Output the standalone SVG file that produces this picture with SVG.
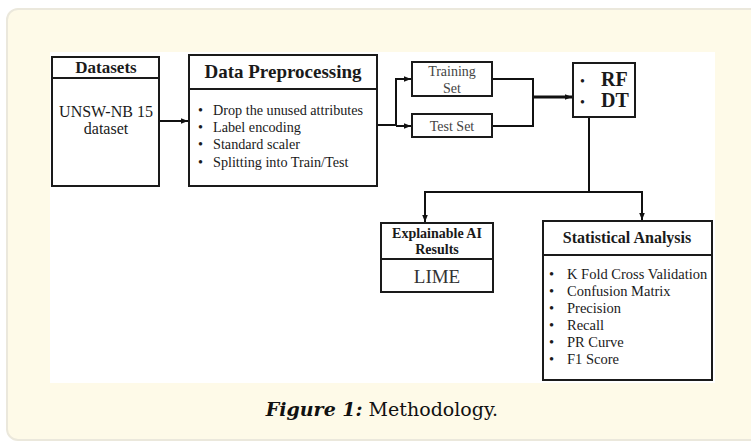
<svg xmlns="http://www.w3.org/2000/svg" width="751" height="442" viewBox="0 0 751 442">
<defs>
<marker id="ahs" viewBox="0 0 10 10" refX="10" refY="5" markerWidth="7" markerHeight="7" orient="auto" markerUnits="userSpaceOnUse">
<path d="M0,1 L10,5 L0,9 z" fill="#111"/>
</marker>
<style>
.box{fill:#fff;stroke:#1a1a1a;stroke-width:2}
.div{stroke:#1a1a1a;stroke-width:2}
.t{font-family:"Liberation Serif","Times New Roman",serif;fill:#1a1a1a}
.g{fill:#444}
.b{font-weight:bold}
.c{text-anchor:middle}
.ln{fill:none;stroke:#111;stroke-width:2}
</style>
</defs>
<rect x="7" y="9" width="760" height="431" rx="11" fill="#fefae8" stroke="#ebe8dc" stroke-width="2"/>
<rect x="50" y="52" width="665" height="331" fill="#ffffff"/>

<g id="connectors">
<line class="ln" x1="159" y1="121" x2="188" y2="121" marker-end="url(#ahs)"/>
<polyline class="ln" points="377,125 396,125 396,79 411,79" marker-end="url(#ahs)"/>
<line class="ln" x1="396" y1="126" x2="411" y2="126" marker-end="url(#ahs)"/>
<polyline class="ln" points="492,79 533,79 533,126 492,126"/>
<line x1="533" y1="97" x2="572" y2="97" stroke="#111" stroke-width="3" marker-end="url(#ahs)"/>
<line class="ln" x1="589" y1="117" x2="589" y2="192"/>
<polyline class="ln" points="425,192 642,192 642,220" marker-end="url(#ahs)"/>
<line class="ln" x1="425" y1="191" x2="425" y2="222" marker-end="url(#ahs)"/>
</g>

<g id="datasets">
<rect class="box" x="52" y="57" width="107" height="129"/>
<line class="div" x1="52" y1="78" x2="159" y2="78"/>
<text class="t b c" x="106" y="73" font-size="17">Datasets</text>
<text class="t c" x="106" y="117" font-size="16">UNSW-NB 15</text>
<text class="t c" x="106" y="134" font-size="16">dataset</text>
</g>

<g id="preprocessing">
<rect class="box" x="189" y="55" width="188" height="131"/>
<line class="div" x1="189" y1="89" x2="377" y2="89"/>
<text class="t b c" x="283" y="78" font-size="19">Data Preprocessing</text>
<g class="t" font-size="14.2">
<text x="198" y="115">•</text><text x="213" y="115">Drop the unused attributes</text>
<text x="198" y="132">•</text><text x="213" y="132">Label encoding</text>
<text x="198" y="149">•</text><text x="213" y="149">Standard scaler</text>
<text x="198" y="167">•</text><text x="213" y="167">Splitting into Train/Test</text>
</g>
</g>

<g id="training">
<rect class="box" x="412" y="62" width="80" height="34"/>
<text class="t g c" x="452" y="76" font-size="14">Training</text>
<text class="t g c" x="452" y="93" font-size="14">Set</text>
</g>

<g id="test">
<rect class="box" x="412" y="114" width="80" height="23"/>
<text class="t g c" x="452" y="131" font-size="14">Test Set</text>
</g>

<g id="models">
<rect class="box" x="573" y="63" width="62" height="54"/>
<text class="t" x="580" y="86" font-size="14">•</text>
<text class="t b" x="601" y="86" font-size="20">RF</text>
<text class="t" x="580" y="107" font-size="14">•</text>
<text class="t b" x="601" y="107" font-size="20">DT</text>
</g>

<g id="xai">
<rect class="box" x="381" y="223" width="112" height="69"/>
<line class="div" x1="381" y1="259" x2="493" y2="259"/>
<text class="t b c" x="437" y="238" font-size="14">Explainable AI</text>
<text class="t b c" x="437" y="254" font-size="14">Results</text>
<text class="t c" x="437" y="283" font-size="19" style="fill:#333">LIME</text>
</g>

<g id="stats">
<rect class="box" x="543" y="221" width="169" height="159"/>
<line class="div" x1="543" y1="255" x2="712" y2="255"/>
<text class="t b c" x="627" y="243" font-size="16">Statistical Analysis</text>
<g class="t" font-size="14.5">
<text x="549" y="279">•</text><text x="567" y="279">K Fold Cross Validation</text>
<text x="549" y="296">•</text><text x="567" y="296">Confusion Matrix</text>
<text x="549" y="313">•</text><text x="567" y="313">Precision</text>
<text x="549" y="330">•</text><text x="567" y="330">Recall</text>
<text x="549" y="347">•</text><text x="567" y="347">PR Curve</text>
<text x="549" y="364">•</text><text x="567" y="364">F1 Score</text>
</g>
</g>

<text x="382" y="416" text-anchor="middle" font-family="'DejaVu Serif','Noto Serif',serif" font-size="19" fill="#111"><tspan font-weight="bold" font-style="italic">Figure 1:</tspan> Methodology.</text>
</svg>
